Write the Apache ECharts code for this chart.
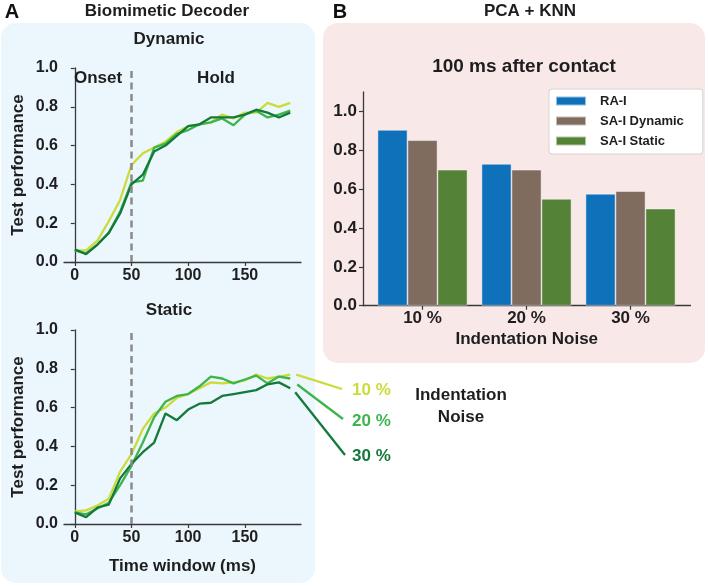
<!DOCTYPE html>
<html><head><meta charset="utf-8">
<script src="https://cdn.jsdelivr.net/npm/echarts@6/dist/echarts.min.js"></script>
<style>html,body{margin:0;padding:0;background:#fff}#c{width:708px;height:586px}</style>
</head><body><div id="c"></div>
<script>
// ---------- data ----------
const timeWindows = [0,10,20,30,40,50,60,70,80,90,100,110,120,130,140,150,160,170,180,190];
const timeTicks = [0,50,100,150];
const perfTicks = [0,0.2,0.4,0.6,0.8,1.0];
const noiseNames = ['10 %','20 %','30 %'];

const dynamic10 = [0.06,0.06,0.11,0.21,0.32,0.50,0.56,0.59,0.62,0.67,0.70,0.71,0.72,0.76,0.74,0.77,0.77,0.82,0.80,0.82];
const dynamic20 = [0.06,0.045,0.09,0.15,0.26,0.41,0.42,0.59,0.61,0.66,0.68,0.71,0.72,0.74,0.705,0.76,0.78,0.745,0.76,0.78];
const dynamic30 = [0.065,0.04,0.09,0.15,0.25,0.40,0.45,0.57,0.60,0.65,0.70,0.71,0.745,0.745,0.745,0.76,0.785,0.77,0.745,0.77];

const static10 = [0.065,0.07,0.095,0.13,0.27,0.36,0.49,0.57,0.60,0.65,0.67,0.70,0.73,0.725,0.73,0.74,0.77,0.75,0.76,0.77];
const static20 = [0.06,0.05,0.08,0.11,0.20,0.30,0.42,0.55,0.63,0.66,0.67,0.71,0.76,0.75,0.725,0.745,0.765,0.725,0.76,0.75];
const static30 = [0.06,0.035,0.085,0.10,0.235,0.31,0.37,0.42,0.57,0.535,0.59,0.62,0.625,0.66,0.67,0.68,0.69,0.72,0.73,0.70];

const barTicks = [0,0.2,0.4,0.6,0.8,1.0];
const raI = [0.905,0.73,0.576];
const saIDynamic = [0.852,0.70,0.59];
const saIStatic = [0.70,0.55,0.50];
const onsetBoundary = 50;

// ---------- styles ----------
const FONT = '"Liberation Sans", Arial, sans-serif';
const TXT = '#1e1e1e';
const AX = '#3a3a3a';
const C10 = '#cbdb3a', C20 = '#3db54b', C30 = '#137a3a';
const CBLUE = '#1071bb', CBROWN = '#7f6c5e', CGREEN = '#548236';

function pts(vals){ return timeWindows.map((t,i)=>[t, vals[i]]); }

const chart = echarts.init(document.getElementById('c'), null, {renderer:'canvas'});

function lineX(gi, named){
  const o = {
    gridIndex: gi, type:'value', min:-9.5, max:199.5,
    axisLine:{show:true, lineStyle:{color:AX, width:1.3}},
    axisTick:{show:true, length:4, customValues: timeTicks, lineStyle:{color:AX, width:1.2}},
    axisLabel:{customValues: timeTicks, margin:6, color:TXT, fontFamily:FONT, fontWeight:'bold', fontSize:16},
    splitLine:{show:false}
  };
  if (named){
    o.name = 'Time window (ms)'; o.nameLocation = 'middle'; o.nameGap = 34;
    o.nameTextStyle = {color:TXT, fontFamily:FONT, fontWeight:'bold', fontSize:17};
  }
  return o;
}
function lineY(gi){
  return {
    gridIndex: gi, type:'value', min:0, max:1,
    name:'Test performance', nameLocation:'middle', nameGap:37, nameRotate:90,
    nameTextStyle:{color:TXT, fontFamily:FONT, fontWeight:'bold', fontSize:17},
    axisLine:{show:true, lineStyle:{color:AX, width:1.3}},
    axisTick:{show:true, length:4, customValues: perfTicks, lineStyle:{color:AX, width:1.2}},
    axisLabel:{customValues: perfTicks, margin:6, color:TXT, fontFamily:FONT, fontWeight:'bold', fontSize:16,
               formatter: v => v.toFixed(1)},
    splitLine:{show:false}
  };
}
function lineSeries(name, vals, color, xi){
  return {type:'line', name:name, xAxisIndex:xi, yAxisIndex:xi, data:pts(vals), symbol:'none',
          lineStyle:{color:color, width:2.3}, itemStyle:{color:color}, silent:true, z:3};
}
const dashMark = {symbol:'none', silent:true, label:{show:false},
  lineStyle:{color:'#8a8a8a', type:[7,4.5], width:2.5}, emphasis:{disabled:true}, data:[{xAxis:onsetBoundary}]};

const s1 = lineSeries('d10', dynamic10, C10, 0); s1.markLine = dashMark;
const s4 = lineSeries('s10', static10, C10, 1); s4.markLine = dashMark;

const barBase = {type:'bar', xAxisIndex:3, yAxisIndex:3, barWidth:30, barGap:'0%', silent:true,
                 itemStyle:{borderColor:'rgba(255,255,255,0.55)', borderWidth:0.8}};

const option = {
  animation:false,
  backgroundColor:'#ffffff',
  grid:[
    {left:64, top:68, width:237, height:194},
    {left:64, top:330, width:237, height:194},
    {left:363, top:92, width:327.5, height:213.7},
    {left:370.5, top:92, width:312, height:213.7}
  ],
  xAxis:[
    lineX(0,false),
    lineX(1,true),
    {gridIndex:2, type:'value', min:0, max:1, axisLine:{show:true, lineStyle:{color:AX, width:1.3}},
     axisTick:{show:false}, axisLabel:{show:false}, splitLine:{show:false},
     name:'Indentation Noise', nameLocation:'middle', nameGap:25,
     nameTextStyle:{color:TXT, fontFamily:FONT, fontWeight:'bold', fontSize:17}},
    {gridIndex:3, type:'category', data:noiseNames, axisLine:{show:false},
     axisTick:{show:true, alignWithLabel:true, length:4, lineStyle:{color:AX, width:1.2}},
     axisLabel:{margin:4, color:TXT, fontFamily:FONT, fontWeight:'bold', fontSize:17}}
  ],
  yAxis:[
    lineY(0), lineY(1),
    {gridIndex:2, type:'value', min:0, max:1.1,
     axisLine:{show:true, lineStyle:{color:AX, width:1.3}},
     axisTick:{show:true, length:4, customValues: barTicks, lineStyle:{color:AX, width:1.2}},
     axisLabel:{customValues: barTicks, margin:6, color:TXT, fontFamily:FONT, fontWeight:'bold', fontSize:17,
                formatter: v => v.toFixed(1)},
     splitLine:{show:false}},
    {gridIndex:3, type:'value', min:0, max:1.1, show:false}
  ],
  legend:{
    data:['RA-I','SA-I Dynamic','SA-I Static'], orient:'vertical', left:549, top:89,
    icon:'rect', itemWidth:30, itemHeight:9, itemGap:6,
    backgroundColor:'#ffffff', borderColor:'#d4d4d4', borderWidth:1, borderRadius:3,
    padding:[5,19,6,6],
    textStyle:{color:TXT, fontFamily:FONT, fontWeight:'bold', fontSize:13, lineHeight:14, padding:[0,0,0,9]},
    selectedMode:false
  },
  series:[
    s1,
    lineSeries('d20', dynamic20, C20, 0),
    lineSeries('d30', dynamic30, C30, 0),
    s4,
    lineSeries('s20', static20, C20, 1),
    lineSeries('s30', static30, C30, 1),
    Object.assign({}, barBase, {name:'RA-I', data:raI, itemStyle:Object.assign({}, barBase.itemStyle, {color:CBLUE})}),
    Object.assign({}, barBase, {name:'SA-I Dynamic', data:saIDynamic, itemStyle:Object.assign({}, barBase.itemStyle, {color:CBROWN})}),
    Object.assign({}, barBase, {name:'SA-I Static', data:saIStatic, itemStyle:Object.assign({}, barBase.itemStyle, {color:CGREEN})})
  ]
};
chart.setOption(option);

// ---------- decorations ----------
function txt(text, x, y, size, color, align){
  return {type:'text', z:50, style:{text:text, x:x, y:y, fill:color||TXT,
    font:'bold '+size+'px '+FONT, textAlign:align||'center', textVerticalAlign:'middle'}};
}
const last = timeWindows.length - 1;
function leader(vals, color, dx, dy, ex, ey){
  const p = chart.convertToPixel({xAxisIndex:1, yAxisIndex:1}, [timeWindows[last], vals[last]]);
  return {type:'line', z:10, shape:{x1:p[0]+dx, y1:p[1]+dy, x2:ex, y2:ey},
          style:{stroke:color, lineWidth:2.3}};
}
const graphics = [
  {type:'rect', z:-10, shape:{x:1, y:23, width:314, height:560, r:15}, style:{fill:'#ebf6fd'}},
  {type:'rect', z:-10, shape:{x:323, y:23, width:382, height:340, r:15}, style:{fill:'#f9e8e8'}},
  txt('A', 12, 12, 20, '#111'),
  txt('Biomimetic Decoder', 167, 11, 17),
  txt('B', 340, 12, 20, '#111'),
  txt('PCA + KNN', 530, 11, 17),
  txt('Dynamic', 169, 39, 17),
  txt('Static', 169, 310, 17),
  txt('Onset', 98, 78, 17),
  txt('Hold', 216, 78, 17),
  txt('100 ms after contact', 524, 67, 19),
  txt('10 %', 352, 390, 17, C10, 'left'),
  txt('20 %', 352, 421, 17, C20, 'left'),
  txt('30 %', 352, 456, 17, C30, 'left'),
  txt('Indentation', 461, 395, 17),
  txt('Noise', 461, 417, 17),
  leader(static10, C10, 6, 0, 342, 389),
  leader(static20, C20, 7, 6, 343, 419),
  leader(static30, C30, 5, 4, 345, 455)
];
chart.setOption({graphic: graphics});
</script>
</body></html>
